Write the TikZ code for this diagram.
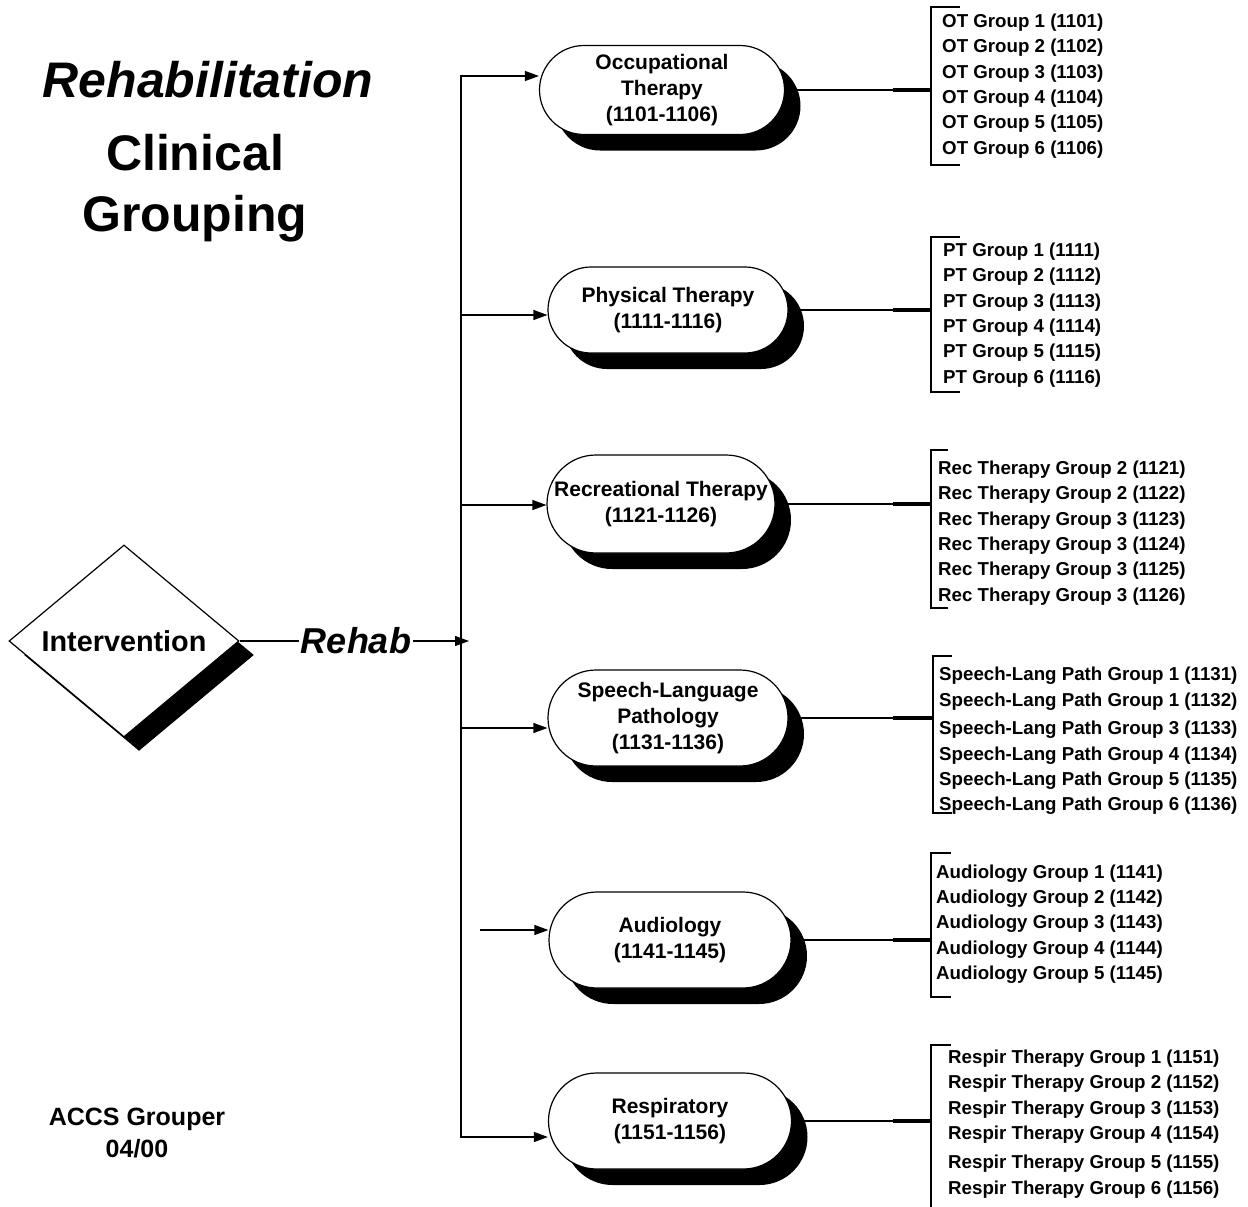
\documentclass[tikz,border=0pt]{standalone}
\usepackage{fontspec}
\setmainfont{Liberation Sans}
\usetikzlibrary{shapes,arrows.meta,shadows,calc}

\begin{document}
\begin{tikzpicture}[
    x=1pt, y=-1pt,
    therapy_block/.style={rounded rectangle, draw, line width=1.2pt, fill=white, align=center, inner sep=2pt, minimum width=246pt, minimum height=96pt, font=\bfseries\fontsize{21}{26}\selectfont, drop shadow={shadow xshift=16pt, shadow yshift=-16pt, opacity=1, fill=black}},
    decision/.style={diamond, draw, line width=1.2pt, fill=white, aspect=1.2, inner sep=0pt, minimum width=230pt, minimum height=192pt, font=\bfseries\fontsize{28.8}{32}\selectfont, drop shadow={shadow xshift=15pt, shadow yshift=-14pt, opacity=1, fill=black}},
    group_list/.style={align=left, inner sep=0pt, anchor=west, font=\bfseries\fontsize{18.7}{25.4}\selectfont},
    title_text/.style={anchor=base, inner sep=0pt, font=\bfseries\fontsize{50}{60}\selectfont},
    plain_line/.style={draw, line width=1.2pt},
    arrow_line/.style={draw, line width=1.2pt, -{Triangle[length=14pt, width=10pt]}},
    bracket_line/.style={draw, line width=1.4pt},
    stub_line/.style={draw, line width=3.2pt}
]
    \useasboundingbox (0,0) rectangle (1248,1207);

    % Title
    \node [title_text] (title) at (208,97) {\itshape Rehabilitation};
    \node [title_text] (clin) at (195,170) {Clinical};
    \node [title_text] (grouping) at (195,231) {Grouping};
    \node [align=center, font=\bfseries\fontsize{25}{32}\selectfont] (accs) at (137,1133) {ACCS Grouper\\04/00};

    % Decision and label
    \node [decision] (interv) at (124,641) {Intervention};
    \node [inner sep=2pt, font=\bfseries\itshape\fontsize{36}{40}\selectfont] (rehab) at (356,641) {Rehab};

    % Therapy blocks
    \node [therapy_block, minimum width=249pt, minimum height=89pt] (ot) at (662,90) {Occupational\\Therapy\\(1101-1106)};
    \node [therapy_block, minimum width=244pt, minimum height=86pt] (pt) at (668,310) {Physical Therapy\\(1111-1116)};
    \node [therapy_block, minimum width=232pt, minimum height=98pt] (rec) at (661,504) {Recreational Therapy\\(1121-1126)};
    \node [therapy_block, minimum width=244pt] (slp) at (668,718) {Speech-Language\\Pathology\\(1131-1136)};
    \node [therapy_block] (aud) at (670,940) {Audiology\\(1141-1145)};
    \node [therapy_block, minimum width=247pt] (resp) at (670,1121) {Respiratory\\(1151-1156)};

    % Group lists
    \node [group_list] (ot_list) at (942,86) {OT Group 1 (1101)\\OT Group 2 (1102)\\OT Group 3 (1103)\\OT Group 4 (1104)\\OT Group 5 (1105)\\OT Group 6 (1106)};
    \node [group_list] (pt_list) at (943,315) {PT Group 1 (1111)\\PT Group 2 (1112)\\PT Group 3 (1113)\\PT Group 4 (1114)\\PT Group 5 (1115)\\PT Group 6 (1116)};
    \node [group_list] (rec_list) at (938,533) {Rec Therapy Group 2 (1121)\\Rec Therapy Group 2 (1122)\\Rec Therapy Group 3 (1123)\\Rec Therapy Group 3 (1124)\\Rec Therapy Group 3 (1125)\\Rec Therapy Group 3 (1126)};
    \node [group_list] (slp_list) at (939,741) {Speech-Lang Path Group 1 (1131)\\Speech-Lang Path Group 1 (1132)\\[3pt]Speech-Lang Path Group 3 (1133)\\Speech-Lang Path Group 4 (1134)\\Speech-Lang Path Group 5 (1135)\\Speech-Lang Path Group 6 (1136)};
    \node [group_list] (aud_list) at (936,924) {Audiology Group 1 (1141)\\Audiology Group 2 (1142)\\Audiology Group 3 (1143)\\Audiology Group 4 (1144)\\Audiology Group 5 (1145)};
    \node [group_list] (resp_list) at (948,1124) {Respir Therapy Group 1 (1151)\\Respir Therapy Group 2 (1152)\\Respir Therapy Group 3 (1153)\\Respir Therapy Group 4 (1154)\\[4pt]Respir Therapy Group 5 (1155)\\Respir Therapy Group 6 (1156)};

    % Trunk
    \coordinate (trunk_top) at (461,76);
    \coordinate (trunk_mid) at (461,641);
    \coordinate (trunk_bot) at (461,1137);
    \coordinate (hub) at (469,641);
    \coordinate (pt_fork) at (461,315);
    \coordinate (rec_fork) at (461,505);
    \coordinate (slp_fork) at (461,728);
    \coordinate (aud_start) at (480,930);

    % Paths
    \path [plain_line] (interv.east) -- (rehab.west);
    \path [arrow_line] (rehab.east) -- (hub);
    \path [arrow_line] (trunk_mid) -- (trunk_top) -- (trunk_top -| ot.west);
    \path [arrow_line] (trunk_mid) -- (trunk_bot) -- (trunk_bot -| resp.west);
    \path [arrow_line] (pt_fork) -- (pt_fork -| pt.west);
    \path [arrow_line] (rec_fork) -- (rec_fork -| rec.west);
    \path [arrow_line] (slp_fork) -- (slp_fork -| slp.west);
    \path [arrow_line] (aud_start) -- (aud_start -| aud.west);

    % Brackets
    \coordinate (ot_brk) at (931,90);
    \coordinate (pt_brk) at (931,310);
    \coordinate (rec_brk) at (931,504);
    \coordinate (slp_brk) at (933,718);
    \coordinate (aud_brk) at (931,940);
    \coordinate (resp_brk) at (931,1121);

    \path [bracket_line] (960,7) -- (931,7) -- (931,165) -- (960,165);
    \path [bracket_line] (960,237) -- (931,237) -- (931,392) -- (960,392);
    \path [bracket_line] (948,450) -- (931,450) -- (931,608) -- (948,608);
    \path [bracket_line] (952,656) -- (933,656) -- (933,813) -- (952,813);
    \path [bracket_line] (951,853) -- (931,853) -- (931,997) -- (951,997);
    \path [bracket_line] (951,1045) -- (931,1045) -- (931,1207);

    \path [plain_line] (ot.east) -- (ot_brk);
    \path [plain_line] (pt.east) -- (pt_brk);
    \path [plain_line] (rec.east) -- (rec_brk);
    \path [plain_line] (slp.east) -- (slp_brk);
    \path [plain_line] (aud.east) -- (aud_brk);
    \path [plain_line] (resp.east) -- (resp_brk);

    \path [stub_line] ($(ot_brk)+(-38,0)$) -- (ot_brk);
    \path [stub_line] ($(pt_brk)+(-38,0)$) -- (pt_brk);
    \path [stub_line] ($(rec_brk)+(-38,0)$) -- (rec_brk);
    \path [stub_line] ($(slp_brk)+(-40,0)$) -- (slp_brk);
    \path [stub_line] ($(aud_brk)+(-38,0)$) -- (aud_brk);
    \path [stub_line] ($(resp_brk)+(-38,0)$) -- (resp_brk);

\end{tikzpicture}
\end{document}
